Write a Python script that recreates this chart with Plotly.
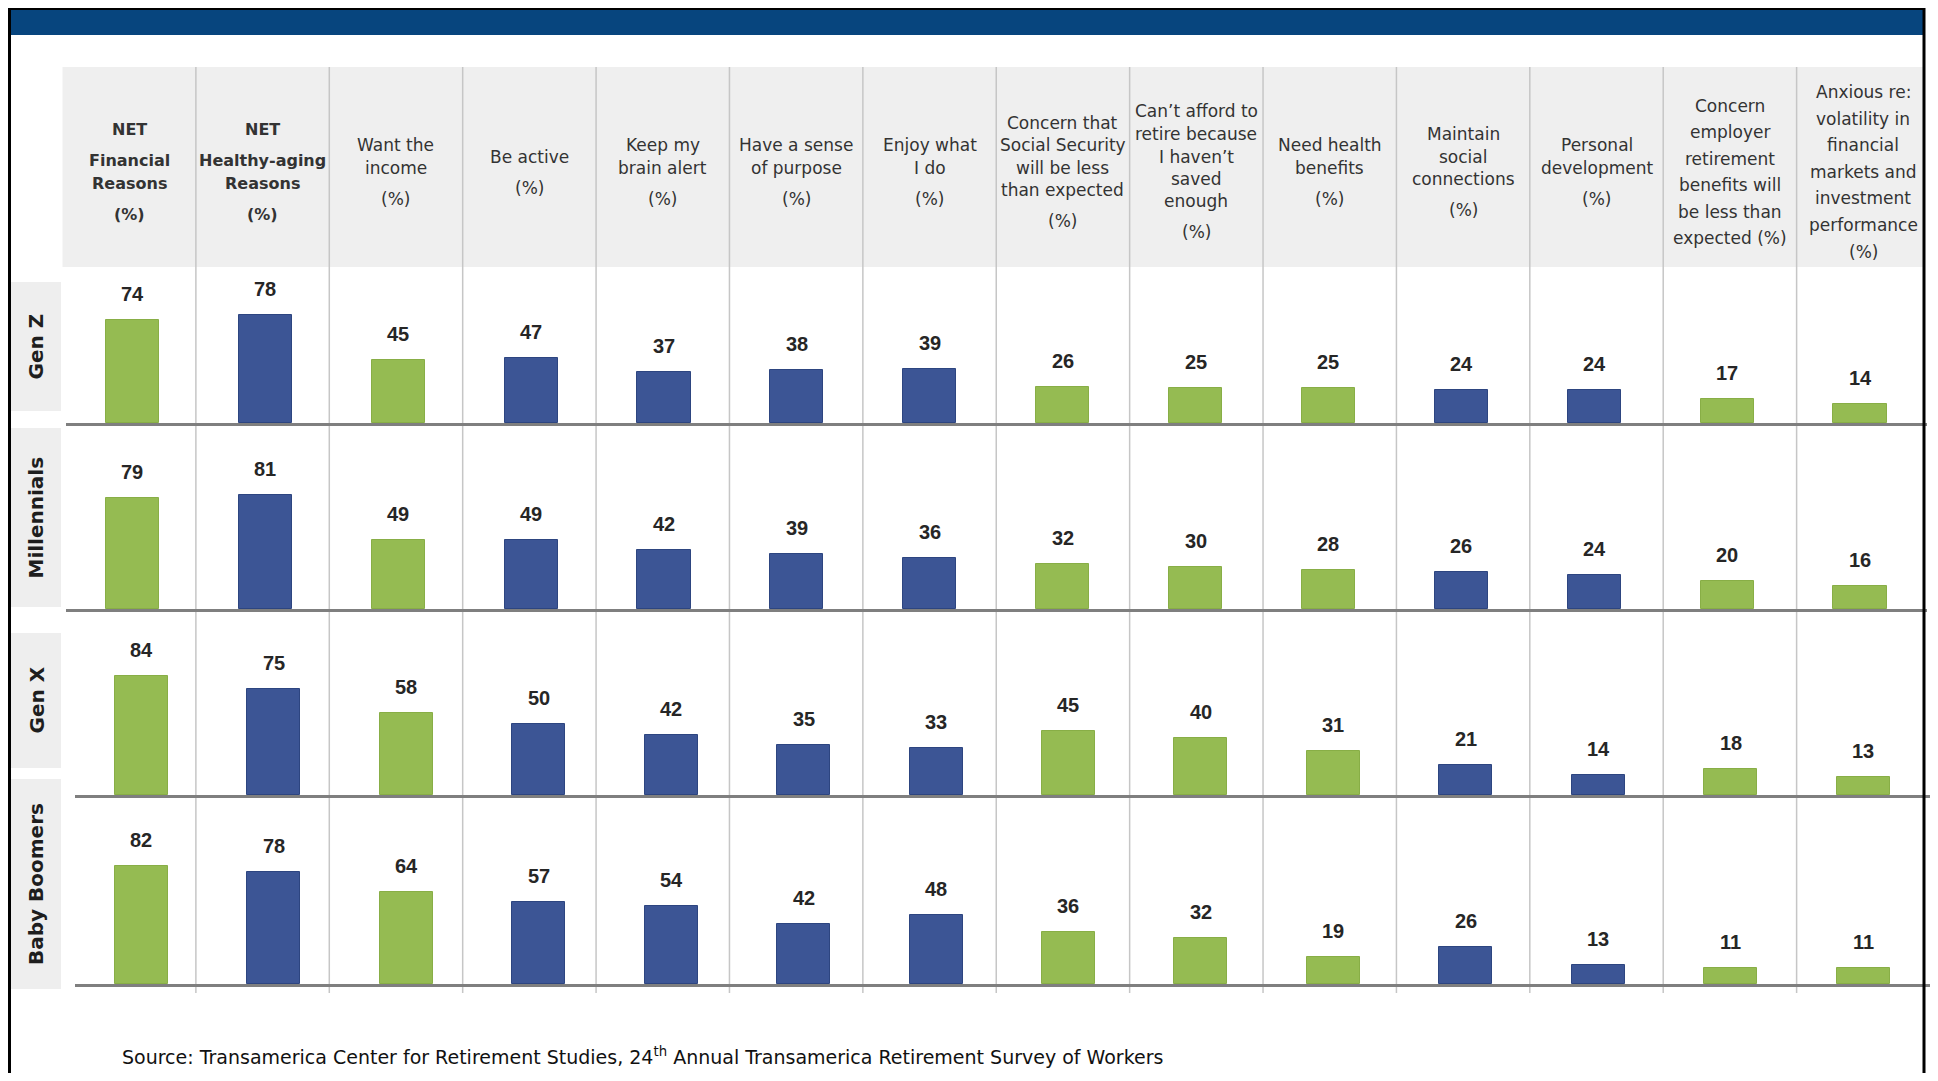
import plotly.graph_objects as go

# ---- data -------------------------------------------------------------
generations = ["Gen Z", "Millennials", "Gen X", "Baby Boomers"]

headers = [
    ["NET", "Financial", "Reasons", "(%)"],
    ["NET", "Healthy-aging", "Reasons", "(%)"],
    ["Want the", "income", "(%)"],
    ["Be active", "(%)"],
    ["Keep my", "brain alert", "(%)"],
    ["Have a sense", "of purpose", "(%)"],
    ["Enjoy what", "I do", "(%)"],
    ["Concern that", "Social Security", "will be less", "than expected", "(%)"],
    ["Can’t afford to", "retire because", "I haven’t", "saved", "enough", "(%)"],
    ["Need health", "benefits", "(%)"],
    ["Maintain", "social", "connections", "(%)"],
    ["Personal", "development", "(%)"],
    ["Concern", "employer", "retirement", "benefits will", "be less than", "expected (%)"],
    ["Anxious re:", "volatility in", "financial", "markets and", "investment", "performance", "(%)"],
]

# which reasons are "financial" (green) vs "healthy-aging" (blue)
is_financial = [True, False, True, False, False, False, False,
                True, True, True, False, False, True, True]

gen_z = [74, 78, 45, 47, 37, 38, 39, 26, 25, 25, 24, 24, 17, 14]
millennials = [79, 81, 49, 49, 42, 39, 36, 32, 30, 28, 26, 24, 20, 16]
gen_x = [84, 75, 58, 50, 42, 35, 33, 45, 40, 31, 21, 14, 18, 13]
boomers = [82, 78, 64, 57, 54, 42, 48, 36, 32, 19, 26, 13, 11, 11]

source = ("Source: Transamerica Center for Retirement Studies, 24<sup>th</sup> "
          "Annual Transamerica Retirement Survey of Workers")

# ---- styling / geometry (page pixels) ----------------------------------
W, H = 1922, 1065   # body has an 8px margin
OFF = 8

GREEN = "#95bb52"
BLUE = "#3c5595"
BANNER = "#07457e"


def px(x):
    return (x - OFF) / W


def py(y):
    return 1 - (y - OFF) / H


rows = [gen_z, millennials, gen_x, boomers]
row_top = [267, 423, 609, 795]
row_base = [423, 609, 795, 984]
row_scale = [1.39, 1.41, 1.42, 1.44]          # px per percentage point
row_x = [(66, 1926.5), (66, 1926.5), (75, 1929.5), (75, 1929.5)]
label_box = [(282, 411), (428, 607), (633, 768), (779, 989)]
table_x = (62.5, 1930)

hdr_step = [22.5] * 12 + [26.5] * 2
hdr_gap = [8.5] * 12 + [0, 0]
hdr_center = 172

fig = go.Figure()
annotations = []
shapes = []
n = len(headers)
colors = [GREEN if f else BLUE for f in is_financial]

for r, vals in enumerate(rows):
    suffix = "" if r == 0 else str(r + 1)
    fig.add_trace(go.Bar(
        x=list(range(n)), y=vals, width=0.4,
        marker=dict(color=colors, line=dict(width=1, color=[
            "#88ae46" if f else "#2d4580" for f in is_financial])),
        xaxis="x" + suffix, yaxis="y" + suffix,
        hoverinfo="skip", showlegend=False,
    ))
    fig.layout["xaxis" + suffix] = dict(
        domain=[px(row_x[r][0]), px(row_x[r][1])], range=[-0.5, n - 0.5],
        showline=True, linecolor="#7f7f7f", linewidth=2.5,
        showgrid=False, zeroline=False, showticklabels=False, ticks="",
        anchor="y" + suffix, fixedrange=True,
    )
    fig.layout["yaxis" + suffix] = dict(
        domain=[py(row_base[r]), py(row_top[r])],
        range=[0, (row_base[r] - row_top[r]) / row_scale[r]],
        visible=False, anchor="x" + suffix, fixedrange=True,
    )
    for i, v in enumerate(vals):
        annotations.append(dict(
            x=i, y=v, xref="x" + suffix, yref="y" + suffix,
            text="<b>%d</b>" % v, showarrow=False,
            xanchor="center", yanchor="middle", yshift=26,
            font=dict(family="Liberation Sans", size=20, color="#262626"),
        ))
    # row label box + rotated label
    y0, y1 = label_box[r]
    shapes.append(dict(type="rect", xref="paper", yref="paper",
                       x0=px(9), x1=px(61), y0=py(y1), y1=py(y0),
                       fillcolor="#eeeeee", line=dict(width=0), layer="below"))
    annotations.append(dict(
        x=px(36), y=py((y0 + y1) / 2), xref="paper", yref="paper",
        xanchor="center", yanchor="middle",
        text="<b>%s</b>" % generations[r], textangle=-90, showarrow=False,
        font=dict(family="DejaVu Sans", size=20, color="#1e1e1e"),
    ))

# table axis (header + column lines)
fig.add_trace(go.Scatter(x=[], y=[], xaxis="x5", yaxis="y5",
                         showlegend=False, hoverinfo="skip"))
fig.layout["xaxis5"] = dict(domain=[px(table_x[0]), px(table_x[1])],
                            range=[-0.5, n - 0.5], visible=False,
                            anchor="y5", fixedrange=True)
fig.layout["yaxis5"] = dict(domain=[py(267), py(67)], range=[0, 1],
                            visible=False, anchor="x5", fixedrange=True)

shapes.append(dict(type="rect", xref="paper", yref="paper",
                   x0=px(table_x[0]), x1=px(1924), y0=py(267), y1=py(67),
                   fillcolor="#efefef", line=dict(width=0), layer="below"))

for i, lines in enumerate(headers):
    offs = [0.0]
    for k in range(1, len(lines)):
        step = hdr_step[i]
        if lines[k] == "(%)" or lines[k - 1] == "NET":
            step += hdr_gap[i]
        offs.append(offs[-1] + step)
    mid = offs[-1] / 2
    for k, line in enumerate(lines):
        if i < 2:
            txt, size = "<b>%s</b>" % line, 16
        else:
            txt, size = line, 17
        annotations.append(dict(
            x=i, y=py(hdr_center - mid + offs[k]), xref="x5", yref="paper",
            text=txt, showarrow=False, xanchor="center", yanchor="middle",
            font=dict(family="DejaVu Sans", size=size, color="#333333"),
        ))

# vertical table lines between columns
for k in range(n - 1):
    shapes.append(dict(type="line", xref="x5", yref="paper",
                       x0=k + 0.5, x1=k + 0.5, y0=py(67), y1=py(993),
                       line=dict(color="#c6c6c6", width=1.5), layer="below"))

# banner and frame
shapes.append(dict(type="rect", xref="paper", yref="paper",
                   x0=px(8), x1=px(1924), y0=py(35), y1=py(9),
                   fillcolor=BANNER, line=dict(width=0), layer="below"))
shapes.append(dict(type="rect", xref="paper", yref="paper",
                   x0=px(9.5), x1=px(1924), y0=py(1200), y1=py(8.5),
                   fillcolor="rgba(0,0,0,0)", line=dict(color="black", width=3),
                   layer="above"))

annotations.append(dict(
    x=px(120), y=py(1056), xref="paper", yref="paper", xanchor="left",
    yanchor="middle", text=source, showarrow=False,
    font=dict(family="DejaVu Sans", size=19, color="#111111"),
))

fig.update_layout(
    width=W, height=H,
    margin=dict(l=0, r=0, t=0, b=0),
    paper_bgcolor="white", plot_bgcolor="rgba(0,0,0,0)",
    bargap=0, annotations=annotations, shapes=shapes,
    showlegend=False,
)

fig.write_html("out.html")
